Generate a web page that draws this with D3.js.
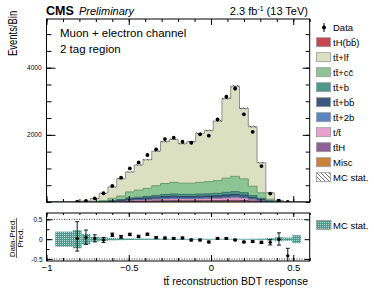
<!DOCTYPE html>
<html>
<head>
<meta charset="utf-8">
<script src="https://cdn.jsdelivr.net/npm/d3@7"></script>
<style>
  body { margin: 0; background: #fff; }
  svg text { font-family: "Liberation Sans", Arial, sans-serif; fill: #000; }
  .axis path { display: none; }
  .axis line { stroke: #000; }
</style>
</head>
<body>
<div id="chart"></div>
<script>
// 30 bins from -1 to 0.6
var binEdges = d3.range(31).map(function(i) { return -1 + i * 1.6 / 30; });

// stacked MC components, bottom to top
var misc  = [0,0,0,0,1,1,2,4,7,11,13,15,18,20,21,20,20,21,22,23,26,27,25,17,10,3,1,0,0,0];
var ttH   = [0,0,0,0,0,1,1,4,6,9,11,12,15,16,18,17,17,18,18,19,21,23,21,14,8,3,0,0,0,0];
var tt    = [0,0,1,1,1,2,4,11,18,30,35,41,48,55,58,56,56,58,60,63,70,76,68,46,27,8,2,1,1,0];
var tt2b  = [0,0,0,0,0,1,2,5,7,12,14,16,19,22,23,22,22,23,24,25,28,30,27,19,11,3,1,0,0,0];
var ttbb  = [0,0,0,0,1,2,4,10,16,27,32,36,44,50,53,50,50,53,54,57,64,69,62,42,25,8,2,0,0,0];
var ttb   = [0,0,0,1,1,2,4,12,20,33,39,45,53,60,64,62,62,64,67,70,78,84,76,52,30,9,2,1,0,0];
var ttcc  = [0,1,1,2,4,11,23,64,106,178,211,240,288,327,348,333,333,348,360,378,423,456,411,280,164,51,12,3,1,0];
var ttlf  = [0,1,3,6,22,84,222,339,514,593,748,853,1027,1247,1282,1177,1237,1461,1521,1775,2370,2684,2095,1771,893,189,25,4,1,0];
var tHbb  = [0,0,0,0,0,0,0,1,1,2,2,2,3,3,3,3,3,4,4,5,5,6,5,4,2,1,0,0,0,0];

// observed events
var dataCounts = [null,null,null,10,30,110,260,480,725,1000,1180,1400,1570,1875,1915,1795,1765,2015,1975,2460,3135,3380,2610,2090,1070,250,40,5,null,null];

// ratio panel
var ratio    = [null,null,null,0.02,0.04,0.02,-0.02,0.11,0.06,0.12,0.07,0.125,0.04,0.03,0.02,0.03,-0.02,-0.02,-0.07,0.02,0.02,-0.02,-0.07,-0.06,-0.08,-0.08,0.0,-0.42,null,null];
var ratioUp  = [0,0,0,0.42,0.19,0.09,0.065,0.045,0.035,0.03,0.03,0.027,0.025,0.023,0.023,0.023,0.023,0.022,0.022,0.02,0.018,0.018,0.02,0.022,0.03,0.065,0.16,0.19,0,0];
var ratioDn  = [0,0,0,0.32,0.17,0.09,0.065,0.045,0.035,0.03,0.03,0.027,0.025,0.023,0.023,0.023,0.023,0.022,0.022,0.02,0.018,0.018,0.02,0.022,0.03,0.065,0.15,0.17,0,0];
var mcStat   = [0,0.19,0.19,0.23,0.13,0.06,0.045,0.03,0.025,0.02,0.018,0.016,0.015,0.014,0.013,0.013,0.013,0.012,0.012,0.012,0.011,0.011,0.012,0.013,0.016,0.03,0.05,0.04,0.1,0];

var yMainTicks = [2000, 4000];
var xTicks = [-1, -0.5, 0, 0.5];
var rTicks = [-0.5, 0, 0.5];

var procs = [
  { key: 'misc', label: 'Misc', values: misc, fill: '#cc8238', stroke: '#9a6128' },
  { key: 'ttH', label: 'tt\u0304H', values: ttH, fill: '#8d5f96', stroke: '#6a4571' },
  { key: 'tt', label: 't/t\u0304', values: tt, fill: '#e6a3cd', stroke: '#b47c9e' },
  { key: 'tt2b', label: 'tt\u0304+2b', values: tt2b, fill: '#5a86c0', stroke: '#436594' },
  { key: 'ttbb', label: 'tt\u0304+bb\u0304', values: ttbb, fill: '#3b587e', stroke: '#2b405d' },
  { key: 'ttb', label: 'tt\u0304+b', values: ttb, fill: '#4e978b', stroke: '#3a7168' },
  { key: 'ttcc', label: 'tt\u0304+cc\u0304', values: ttcc, fill: '#8cc493', stroke: '#6a9a70' },
  { key: 'ttlf', label: 'tt\u0304+lf', values: ttlf, fill: '#dce0c2', stroke: '#8f8f8f' },
  { key: 'tHbb', label: 'tH(bb\u0304)', values: tHbb, fill: '#c8474f', stroke: null }
];

var W = 374, H = 290;
var margin = { left: 46.5, right: 64.3, top: 19 };
var mainBottom = 202, ratioTop = 213, ratioBottom = 261;

var x = d3.scaleLinear().domain([-1, 0.6]).range([margin.left, W - margin.right]);
var y = d3.scaleLinear().domain([0, 5450]).range([mainBottom, margin.top]);
var yr = d3.scaleLinear().domain([-0.55, 0.66]).range([ratioBottom, ratioTop]);

var svg = d3.select('#chart').append('svg').attr('width', W).attr('height', H);
var defs = svg.append('defs');

// MC stat patterns
var hatch = defs.append('pattern').attr('id', 'hatch').attr('patternUnits', 'userSpaceOnUse')
  .attr('width', 4).attr('height', 4);
hatch.append('path').attr('d', 'M-1,-1 L5,5 M3,-1 L5,1 M-1,3 L1,5').attr('stroke', '#333').attr('stroke-width', 0.7);
var dots = defs.append('pattern').attr('id', 'dots').attr('patternUnits', 'userSpaceOnUse')
  .attr('width', 2).attr('height', 2);
dots.append('rect').attr('width', 2).attr('height', 2).attr('fill', '#4e9a8e');
dots.append('rect').attr('width', 1).attr('height', 1).attr('fill', '#a9d6cd');

defs.append('clipPath').attr('id', 'clipMain').append('rect')
  .attr('x', margin.left).attr('y', margin.top)
  .attr('width', x.range()[1] - margin.left).attr('height', mainBottom - margin.top);
defs.append('clipPath').attr('id', 'clipRatio').append('rect')
  .attr('x', margin.left).attr('y', ratioTop)
  .attr('width', x.range()[1] - margin.left).attr('height', ratioBottom - ratioTop);

// stack
var bins = d3.range(30).map(function(i) {
  var o = { i: i };
  procs.forEach(function(p) { o[p.key] = p.values[i]; });
  return o;
});
var series = d3.stack().keys(procs.map(function(p) { return p.key; }))(bins);

function stepPoints(s) {
  var pts = s.map(function(d, i) { return { x: binEdges[i], y0: d[0], y1: d[1] }; });
  var last = s[s.length - 1];
  pts.push({ x: binEdges[30], y0: last[0], y1: last[1] });
  return pts;
}
var area = d3.area().curve(d3.curveStepAfter)
  .x(function(d) { return x(d.x); })
  .y0(function(d) { return y(d.y0); })
  .y1(function(d) { return y(d.y1); });
var topLine = d3.line().curve(d3.curveStepAfter)
  .x(function(d) { return x(d.x); })
  .y(function(d) { return y(d.y1); });

var main = svg.append('g').attr('clip-path', 'url(#clipMain)');
series.forEach(function(s, k) {
  main.append('path').datum(stepPoints(s)).attr('d', area).attr('fill', procs[k].fill);
});
series.forEach(function(s, k) {
  if (!procs[k].stroke) return;
  main.append('path').datum(stepPoints(s)).attr('d', topLine).attr('fill', 'none')
    .attr('stroke', procs[k].stroke).attr('stroke-width', 1);
});

// MC stat hatch on top of the stack
var total = bins.map(function(b, i) { return series[series.length - 1][i][1]; });
main.selectAll('.mcstat').data(total).enter().append('rect')
  .attr('x', function(d, i) { return x(binEdges[i]); })
  .attr('width', function(d, i) { return x(binEdges[i + 1]) - x(binEdges[i]); })
  .attr('y', function(d, i) { return y(d * (1 + mcStat[i])); })
  .attr('height', function(d, i) { return y(d * (1 - mcStat[i])) - y(d * (1 + mcStat[i])); })
  .attr('fill', 'url(#hatch)');

// data points
var dataPts = dataCounts.map(function(d, i) {
  return { c: (binEdges[i] + binEdges[i + 1]) / 2, v: d };
}).filter(function(d) { return d.v !== null; });
main.selectAll('.derr').data(dataPts).enter().append('line')
  .attr('x1', function(d) { return x(d.c); }).attr('x2', function(d) { return x(d.c); })
  .attr('y1', function(d) { return y(d.v + Math.sqrt(d.v)); })
  .attr('y2', function(d) { return y(Math.max(0, d.v - Math.sqrt(d.v))); })
  .attr('stroke', '#000');
main.selectAll('.dpt').data(dataPts).enter().append('circle')
  .attr('cx', function(d) { return x(d.c); }).attr('cy', function(d) { return y(d.v); })
  .attr('r', 1.9).attr('fill', '#000');

// ratio panel
var rg = svg.append('g').attr('clip-path', 'url(#clipRatio)');
[0.5, -0.5].forEach(function(v) {
  rg.append('line').attr('x1', x.range()[0]).attr('x2', x.range()[1])
    .attr('y1', yr(v)).attr('y2', yr(v))
    .attr('stroke', '#000').attr('stroke-width', 0.8).attr('stroke-dasharray', '1,1.5');
});
rg.selectAll('.band').data(mcStat).enter().append('rect')
  .attr('x', function(d, i) { return x(binEdges[i]); })
  .attr('width', function(d, i) { return x(binEdges[i + 1]) - x(binEdges[i]); })
  .attr('y', function(d) { return yr(d); })
  .attr('height', function(d) { return Math.max(0, yr(-d) - yr(d)); })
  .attr('fill', 'url(#dots)');
var ratioPts = ratio.map(function(r, i) {
  return { c: (binEdges[i] + binEdges[i + 1]) / 2, r: r, up: ratioUp[i], dn: ratioDn[i] };
}).filter(function(d) { return d.r !== null; });
var re = rg.selectAll('.rerr').data(ratioPts).enter().append('g');
re.append('line')
  .attr('x1', function(d) { return x(d.c); }).attr('x2', function(d) { return x(d.c); })
  .attr('y1', function(d) { return yr(d.r + d.up); }).attr('y2', function(d) { return yr(d.r - d.dn); })
  .attr('stroke', '#000').attr('stroke-width', 0.9);
re.append('line')
  .attr('x1', function(d) { return x(d.c) - 2; }).attr('x2', function(d) { return x(d.c) + 2; })
  .attr('y1', function(d) { return yr(d.r + d.up); }).attr('y2', function(d) { return yr(d.r + d.up); })
  .attr('stroke', '#000').attr('stroke-width', 0.9);
re.append('line')
  .attr('x1', function(d) { return x(d.c) - 2; }).attr('x2', function(d) { return x(d.c) + 2; })
  .attr('y1', function(d) { return yr(d.r - d.dn); }).attr('y2', function(d) { return yr(d.r - d.dn); })
  .attr('stroke', '#000').attr('stroke-width', 0.9);
re.append('circle').attr('cx', function(d) { return x(d.c); }).attr('cy', function(d) { return yr(d.r); })
  .attr('r', 1.7).attr('fill', '#000');

// frames
[[margin.top, mainBottom], [ratioTop, ratioBottom]].forEach(function(f) {
  svg.append('rect').attr('x', x.range()[0]).attr('y', f[0])
    .attr('width', x.range()[1] - x.range()[0]).attr('height', f[1] - f[0])
    .attr('fill', 'none').attr('stroke', '#000').attr('stroke-width', 1);
});

// axes: ticks point inward
function addAxis(axis, tx, ty) {
  return svg.append('g').attr('class', 'axis').attr('transform', 'translate(' + tx + ',' + ty + ')').call(axis);
}
var xMinor = d3.range(-1, 0.6001, 0.1);
var yMinor = d3.range(0, 5451, 500);
// main y
addAxis(d3.axisLeft(y).tickValues(yMinor).tickSize(-5).tickFormat(''), x.range()[0], 0);
addAxis(d3.axisLeft(y).tickValues(yMainTicks).tickSize(-9).tickPadding(5).tickFormat(d3.format('d')), x.range()[0], 0)
  .selectAll('text').style('font-size', '6.5px');
addAxis(d3.axisRight(y).tickValues(yMinor).tickSize(-4).tickFormat(''), x.range()[1], 0);
addAxis(d3.axisRight(y).tickValues(yMainTicks).tickSize(-7).tickFormat(''), x.range()[1], 0);
// main x (no labels)
addAxis(d3.axisBottom(x).tickValues(xMinor).tickSize(-3).tickFormat(''), 0, mainBottom);
addAxis(d3.axisBottom(x).tickValues(xTicks).tickSize(-6).tickFormat(''), 0, mainBottom);
addAxis(d3.axisTop(x).tickValues(xMinor).tickSize(-3).tickFormat(''), 0, margin.top);
addAxis(d3.axisTop(x).tickValues(xTicks).tickSize(-6).tickFormat(''), 0, margin.top);
// ratio axes
addAxis(d3.axisLeft(yr).tickValues(d3.range(-0.5, 0.51, 0.25)).tickSize(-3).tickFormat(''), x.range()[0], 0);
addAxis(d3.axisLeft(yr).tickValues(rTicks).tickSize(-6).tickPadding(4).tickFormat(function(d) { return d === 0 ? '0' : d; }), x.range()[0], 0)
  .selectAll('text').style('font-size', '6.5px');
addAxis(d3.axisRight(yr).tickValues(rTicks).tickSize(-5).tickFormat(''), x.range()[1], 0);
addAxis(d3.axisTop(x).tickValues(xTicks).tickSize(-4).tickFormat(''), 0, ratioTop);
addAxis(d3.axisTop(x).tickValues(xMinor).tickSize(-2).tickFormat(''), 0, ratioTop);
addAxis(d3.axisBottom(x).tickValues(xMinor).tickSize(-3).tickFormat(''), 0, ratioBottom);
addAxis(d3.axisBottom(x).tickValues(xTicks).tickSize(-6).tickPadding(3)
  .tickFormat(function(d) { return d === 0 ? '0' : String(d).replace('-', '\u2212'); }), 0, ratioBottom)
  .selectAll('text').style('font-size', '9.5px');

// titles
svg.append('text').attr('x', 46).attr('y', 14.5).style('font-size', '12.5px').style('font-weight', 'bold').text('CMS');
svg.append('text').attr('x', 79).attr('y', 14.5).style('font-size', '11px').style('font-style', 'italic').text('Preliminary');
var lumi = svg.append('text').attr('x', 308).attr('y', 15).attr('text-anchor', 'end').style('font-size', '11px');
lumi.append('tspan').text('2.3 fb');
lumi.append('tspan').attr('dy', -4).style('font-size', '7px').text('-1');
lumi.append('tspan').attr('dy', 4).text(' (13 TeV)');
svg.append('text').attr('x', 60).attr('y', 37).style('font-size', '11.5px').text('Muon + electron channel');
svg.append('text').attr('x', 60).attr('y', 53).style('font-size', '11.5px').text('2 tag region');

// y title: glyphs are compressed along the text direction in the reference
svg.append('text').attr('transform', 'translate(16.5,56) rotate(-90) scale(0.7,1)').attr('text-anchor', 'start')
  .style('font-size', '13.5px').text('Events/Bin');
svg.append('text').attr('x', 308).attr('y', 285).attr('text-anchor', 'end').style('font-size', '10.5px')
  .text('tt\u0304 reconstruction BDT response');
var rl = svg.append('g').attr('transform', 'translate(0,238) rotate(-90)');
rl.append('text').attr('x', 0).attr('y', 15).attr('text-anchor', 'middle').style('font-size', '8px').text('Data-Pred.');
rl.append('line').attr('x1', -20).attr('x2', 20).attr('y1', 16.5).attr('y2', 16.5).attr('stroke', '#000').attr('stroke-width', 0.6);
rl.append('text').attr('x', 0).attr('y', 23).attr('text-anchor', 'middle').style('font-size', '8px').text('Pred.');

// legend
var lg = svg.append('g');
lg.append('line').attr('x1', 324).attr('x2', 324).attr('y1', 23).attr('y2', 32).attr('stroke', '#000');
lg.append('circle').attr('cx', 324).attr('cy', 27.5).attr('r', 1.9).attr('fill', '#000');
lg.append('text').attr('x', 333).attr('y', 31).style('font-size', '9.5px').text('Data');
var legendProcs = procs.slice().reverse();
legendProcs.forEach(function(p, k) {
  var cy = 42.2 + 15 * k;
  lg.append('rect').attr('x', 316.5).attr('y', cy - 4.5).attr('width', 14).attr('height', 9)
    .attr('fill', p.fill).attr('stroke', '#999').attr('stroke-width', 0.8);
  lg.append('text').attr('x', 333).attr('y', cy + 3.5).style('font-size', '9.5px').text(p.label);
});
var cyMc = 42.2 + 15 * 9;
lg.append('rect').attr('x', 316.5).attr('y', cyMc - 4.5).attr('width', 14).attr('height', 9)
  .attr('fill', 'url(#hatch)').attr('stroke', '#999').attr('stroke-width', 0.8);
lg.append('text').attr('x', 333).attr('y', cyMc + 3.5).style('font-size', '9.5px').text('MC stat.');
lg.append('rect').attr('x', 316.5).attr('y', 220.5).attr('width', 14.5).attr('height', 9)
  .attr('fill', 'url(#dots)').attr('stroke', '#999').attr('stroke-width', 0.8);
lg.append('text').attr('x', 333).attr('y', 228.5).style('font-size', '9.5px').text('MC stat.');
</script>
</body>
</html>
